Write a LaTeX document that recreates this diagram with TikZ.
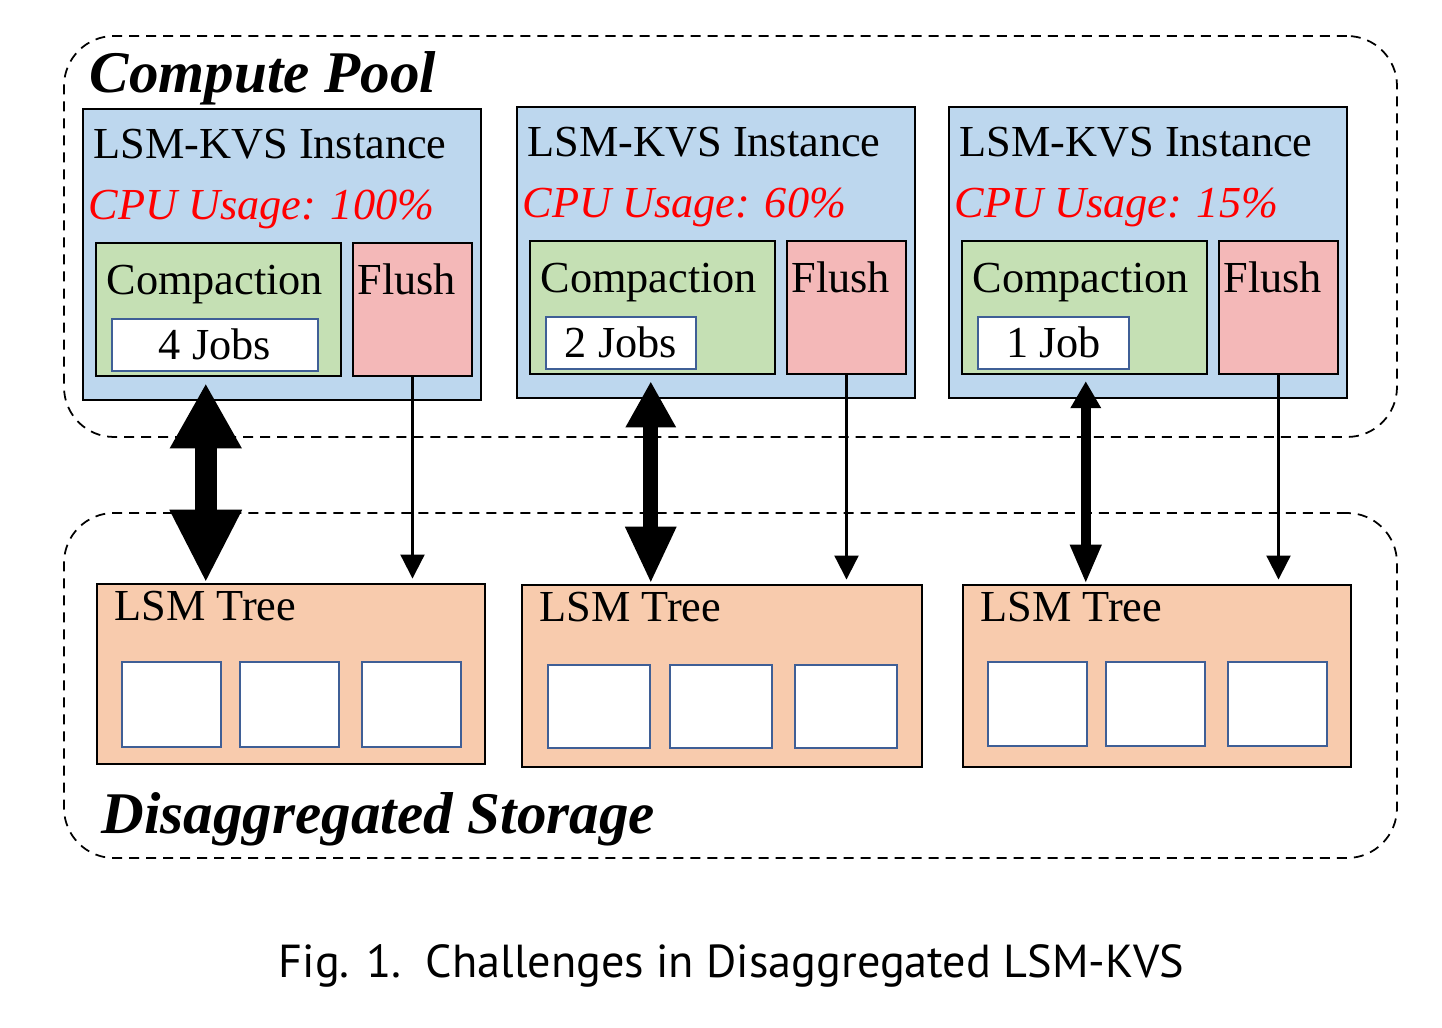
\documentclass[tikz,border=0pt]{standalone}
\usepackage{fontspec}
\setmainfont{Liberation Serif}
\newfontfamily\capfont{PT Sans}
\usetikzlibrary{arrows.meta,calc,fit}

\definecolor{instblue}{HTML}{BDD7EE}
\definecolor{compgreen}{HTML}{C5E0B4}
\definecolor{flushpink}{HTML}{F4B8B8}
\definecolor{treeorange}{HTML}{F8CBAD}
\definecolor{fileblue}{HTML}{3F5F96}

\tikzset{
	region/.style={draw, line width=0.5pt, dash pattern=on 0.1cm off 0.07cm, rounded corners=0.5cm, inner sep=0pt},
	box/.style={draw=black, line width=0.7pt, inner sep=0pt},
	filebox/.style={draw=fileblue, line width=0.6pt, fill=white, inner sep=0pt},
	lbl/.style={anchor=base west, inner sep=0pt, font=\fontsize{12.6}{15}\selectfont},
	title/.style={anchor=base west, inner sep=0pt, font=\fontsize{16.8}{20}\selectfont\bfseries\itshape},
	flow/.style={line width=0.6pt, -{Triangle[length=0.24cm,width=0.24cm]}, shorten >=1.2pt}
}

\begin{document}
\begin{tikzpicture}[x=0.01cm, y=-0.01cm]
		%%%%% START %%%%%
		\useasboundingbox (0,0) rectangle (1442,1028);
		
		% two dashed regions
		\node[region, fit={(64,36) (1397,437)}] (pool) {};
		\node[region, fit={(64,513) (1397,858)}] (store) {};
		\node[title] (pooltitle) at ($(pool.north west)+(26,57)$) {Compute Pool};
		\node[title] (storetitle) at ($(store.south west)+(38,-25)$) {Disaggregated Storage};
		
		% lsm trees in storage
		\foreach \tr/\x/\y/\w/\hh/\bw/\bh/\by/\ba/\bb/\bc in {1/97/584/388/180/99/85/78/25/143/265, 2/522/585/400/182/102/83/80/26/148/273, 3/963/585/388/182/99/84/77/25/143/265}
		{
			\node[box, fill=treeorange, fit={(\x,\y) (\x+\w,\y+\hh)}] (tree\tr) {};
			\node[lbl] (treelbl\tr) at ($(tree\tr.north west)+(18,38)$) {LSM Tree};
			\foreach \off [count=\kk] in {\ba,\bb,\bc}
				\node[filebox, fit={(\x+\off,\y+\by) (\x+\off+\bw,\y+\by+\bh)}] (file\tr\kk) {};
		}
		
		% lsm-kvs instances
		\foreach \i/\x/\y/\jw/\cpu/\jobs/\ax/\sw/\hw/\htop/\hbot in {1/83/109/206/100/4 Jobs/111/0.22cm/0.67cm/0.65cm/0.73cm, 2/517/107/150/60/2 Jobs/122/0.15cm/0.47cm/0.46cm/0.57cm, 3/949/107/151/15/1 Job/125/0.095cm/0.29cm/0.27cm/0.39cm}
		{
			\node[box, fill=instblue, fit={(\x,\y) (\x+398,\y+291)}] (inst\i) {};
			\node[lbl] (instlbl\i) at ($(inst\i.north west)+(11,51)$) {LSM-KVS Instance};
			\node[lbl, text=red, font=\fontsize{12.6}{15}\selectfont\itshape] (cpu\i) at ($(inst\i.north west)+(6,112)$) {CPU Usage: \cpu\%};
			
			\node[box, fill=compgreen, fit={(\x+13,\y+134) (\x+258,\y+267)}] (comp\i) {};
			\node[lbl] (complbl\i) at ($(comp\i.north west)+(11,53)$) {Compaction};
			\node[filebox, fit={(\x+29,\y+210) (\x+29+\jw,\y+262)}] (jobs\i) {};
			\node[lbl, anchor=base] (jobslbl\i) at ($(jobs\i.south)+(0,-13)$) {\jobs};
			
			\node[box, fill=flushpink, fit={(\x+270,\y+134) (\x+389,\y+267)}] (flush\i) {};
			\node[lbl] (flushlbl\i) at ($(flush\i.north west)+(5,53)$) {Flush};
			
			% compaction traffic and flush
			\coordinate (dup\i) at ($(comp\i.south west)+(\ax,6)$);
			\draw[line width=\sw, {Triangle[length=\htop,width=\hw]}-{Triangle[length=\hbot,width=\hw]}] (dup\i) -- (dup\i |- tree\i.north);
			\draw[flow] (flush\i.south) -- (flush\i.south |- tree\i.north);
		}
		
		\node[anchor=base west, inner sep=0pt, font=\capfont\fontsize{13.15}{16}\selectfont] (caption) at (278,978) {Fig. 1.\ \ Challenges in Disaggregated LSM-KVS};
		
		%%%%% END %%%%%
	\end{tikzpicture}
\end{document}
